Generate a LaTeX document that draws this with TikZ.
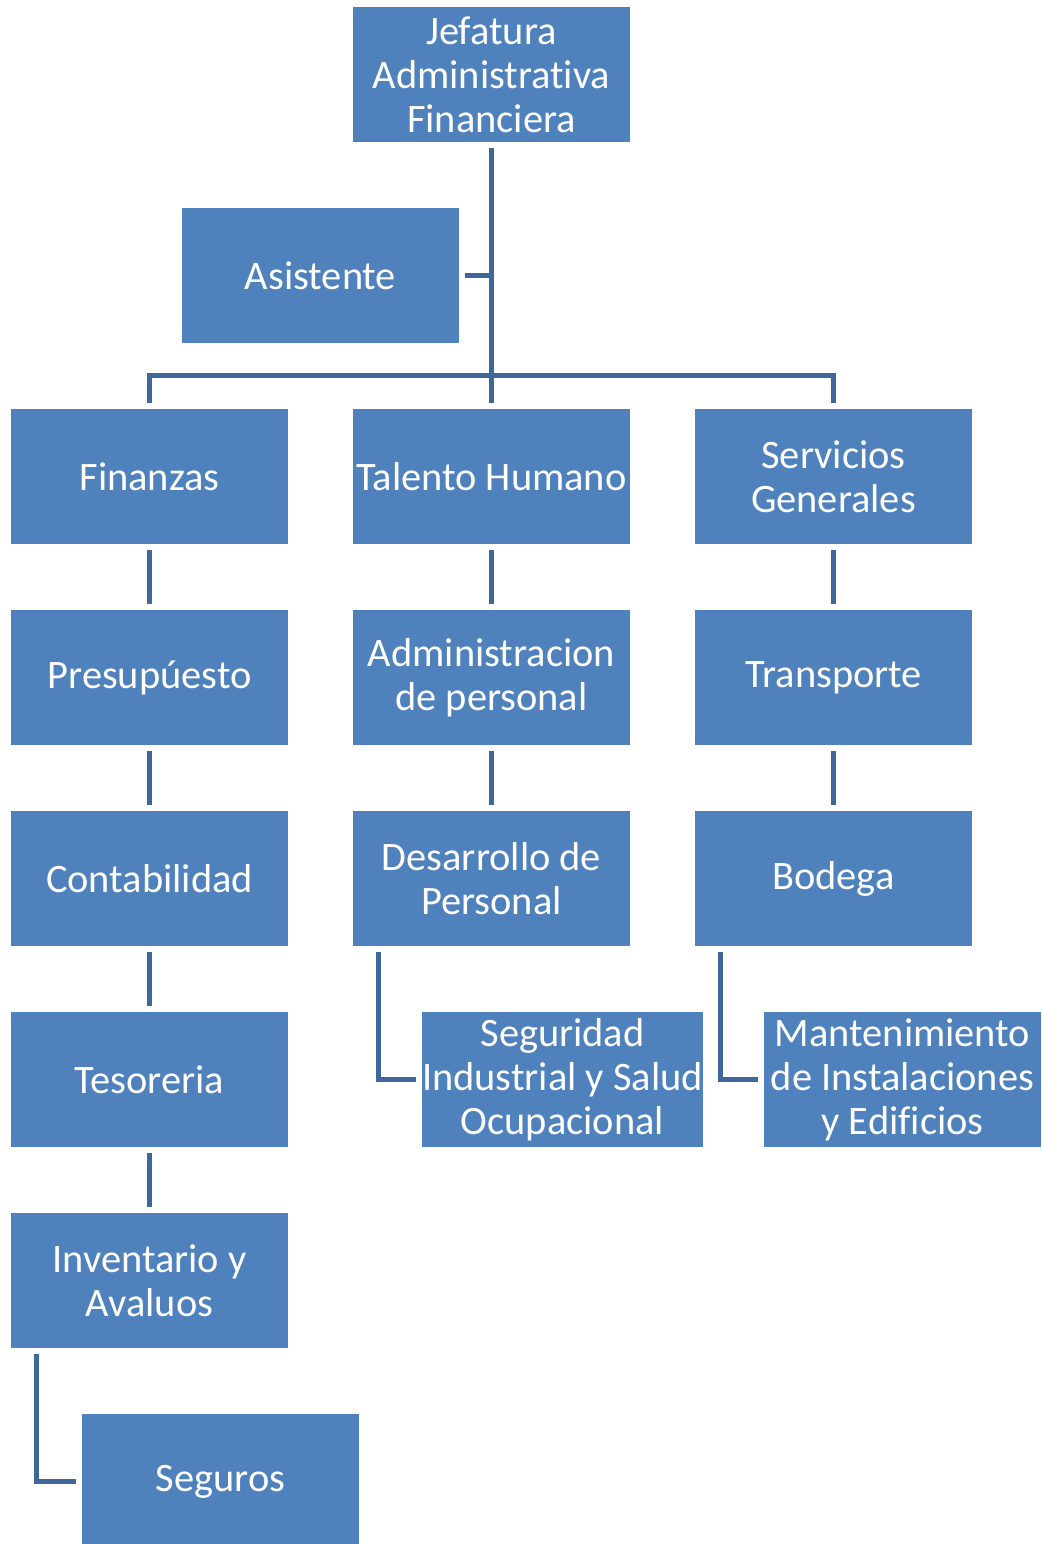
\documentclass[tikz,border=0pt]{standalone}
\usepackage{fontspec}
\setmainfont{Carlito}[Ligatures=NoCommon]
\usepackage{tikz}
\usetikzlibrary{positioning}

\definecolor{cajaazul}{HTML}{4F81BD}
\definecolor{lineaazul}{HTML}{3E689C}

\tikzset{
  caja/.style={fill=cajaazul, text=white, minimum width=138.5pt, minimum height=67.5pt,
    inner sep=0pt, outer sep=0pt, align=center, font=\fontsize{20.2}{22}\selectfont},
  linea/.style={draw=lineaazul, line width=2.5pt, shorten <=3pt, shorten >=3pt}
}

\begin{document}
\begin{tikzpicture}[x=0.5pt,y=-0.5pt]
		\useasboundingbox (0,0) rectangle (1041,1544);
		% jefatura y asistente
		\node[caja] (jefa) at (491.5,74.5) {Jefatura\\Administrativa\\Financiera};
		\node[caja] (asis) at (320.5,275.5) {Asistente};
		% primer nivel
		\node[caja] (tal) at (491.5,476.5) {Talento Humano};
		\node[caja, left=32.5pt of tal] (fin) {Finanzas};
		\node[caja, right=32.5pt of tal] (serv) {Servicios\\Generales};
		% finanzas
		\node[caja, below=33pt of fin] (pres) {Presupúesto};
		\node[caja, below=33pt of pres] (cont) {Contabilidad};
		\node[caja, below=33pt of cont] (teso) {Tesoreria};
		\node[caja, below=33pt of teso] (inv) {Inventario y\\Avaluos};
		\node[caja, below=33pt of inv, xshift=35.5pt] (segu) {Seguros};
		% talento humano
		\node[caja, below=33pt of tal] (adm) {Administracion\\de personal};
		\node[caja, below=33pt of adm] (desa) {Desarrollo de\\Personal};
		\node[caja, below=33pt of desa, xshift=35.5pt] (seg) {Seguridad\\Industrial y Salud\\Ocupacional};
		% servicios generales
		\node[caja, below=33pt of serv] (trans) {Transporte};
		\node[caja, below=33pt of trans] (bod) {Bodega};
		\node[caja, below=33pt of bod, xshift=34.5pt] (mant) {Mantenimiento\\de Instalaciones\\y Edificios};
		% conectores
		\coordinate (barra) at (491.5,375);
		\draw[linea] (jefa) -- (tal);
		\draw[linea, shorten >=0pt] (asis) -- (asis -| jefa);
		\draw[linea] (fin.north) |- (barra) -| (serv.north);
		\foreach \a/\b in {fin/pres, pres/cont, cont/teso, teso/inv, tal/adm, adm/desa, serv/trans, trans/bod}
			\draw[linea] (\a) -- (\b);
		\draw[linea] ([xshift=12.5pt]inv.south west) |- (segu);
		\draw[linea] ([xshift=12.5pt]desa.south west) |- (seg);
		\draw[linea] ([xshift=12.5pt]bod.south west) |- (mant);
\end{tikzpicture}
\end{document}
